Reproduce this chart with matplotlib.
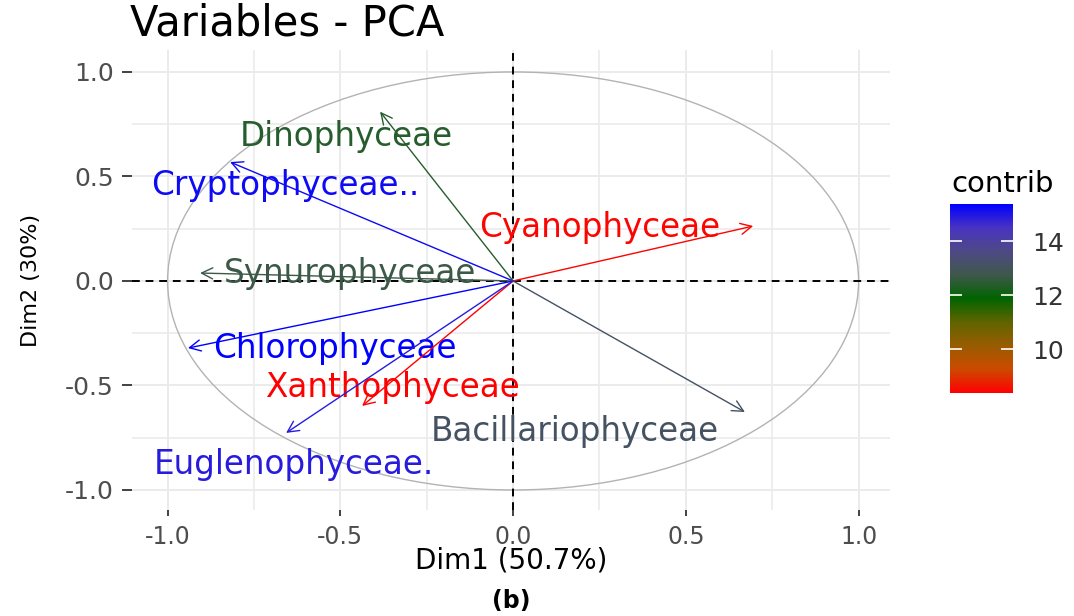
import matplotlib

matplotlib.use("Agg")
import matplotlib.pyplot as plt
from matplotlib.colors import LinearSegmentedColormap, Normalize
from matplotlib.patches import Circle
from matplotlib.cm import ScalarMappable

# PCA variable coordinates (Dim1, Dim2) and contribution
variables = ["Dinophyceae", "Cryptophyceae..", "Cyanophyceae", "Synurophyceae",
             "Chlorophyceae", "Xanthophyceae", "Bacillariophyceae", "Euglenophyceae."]
dim1 = [-0.385, -0.819, 0.695, -0.906, -0.941, -0.437, 0.671, -0.657]
dim2 = [0.810, 0.569, 0.263, 0.038, -0.321, -0.598, -0.627, -0.727]
contrib = [12.4, 15.2, 8.45, 12.7, 15.37, 8.37, 13.1, 14.9]
ticks = [-1.0, -0.5, 0.0, 0.5, 1.0]
cbar_ticks = [10, 12, 14]

# label offsets from arrow tips (layout only)
label_dx = [-0.097, 0.159, -0.443, 0.433, 0.426, 0.087, -0.493, 0.022]
label_dy = [-0.121, -0.110, -0.005, 0.0, 0.0, 0.086, -0.095, -0.153]

plt.rcParams["axes.unicode_minus"] = False

# red -> darkgreen -> blue, stops sampled along a Lab-space blend like R does
cmap = LinearSegmentedColormap.from_list(
    "contrib",
    ["#FF0000", "#CC4A00", "#985C00", "#606400", "#006400",
     "#3F584B", "#4E4985", "#4934C1", "#0000FF"],
)
norm = Normalize(vmin=min(contrib), vmax=max(contrib))

fig = plt.figure(figsize=(10.74, 6.16), dpi=100)
ax = fig.add_axes([0.1229, 0.172, 0.7058, 0.7468])

ax.set_xlim(-1.103, 1.091)
ax.set_ylim(-1.096, 1.105)

minor = [-0.75, -0.25, 0.25, 0.75]
ax.set_xticks(ticks)
ax.set_yticks(ticks)
ax.set_xticks(minor, minor=True)
ax.set_yticks(minor, minor=True)
ax.set_xticklabels([f"{t:.1f}" for t in ticks])
ax.set_yticklabels([f"{t:.1f}" for t in ticks])
ax.grid(which="major", color="#EBEBEB", lw=1.4)
ax.grid(which="minor", color="#EBEBEB", lw=1.2)
ax.set_axisbelow(True)
for s in ax.spines.values():
    s.set_visible(False)
ax.tick_params(which="minor", length=0)
ax.tick_params(axis="x", which="major", length=4.5, width=1.3, color="#333333",
               labelsize=17, labelcolor="#4D4D4D", pad=6)
ax.tick_params(axis="y", which="major", length=7, width=1.3, color="#333333",
               labelsize=18, labelcolor="#4D4D4D", pad=6)

ax.add_patch(Circle((0, 0), 1.0, fill=False, ec="#B3B3B3", lw=1.0))
ax.axhline(0, color="black", ls=(0, (4, 3)), lw=1.4)
ax.axvline(0, color="black", ls=(0, (4, 3)), lw=1.4)

for name, x, y, c, dx, dy in zip(variables, dim1, dim2, contrib, label_dx, label_dy):
    col = cmap(norm(c))
    ax.annotate("", xy=(x, y), xytext=(0, 0),
                arrowprops=dict(arrowstyle="->", color=col, lw=1.0,
                                mutation_scale=20, shrinkA=0, shrinkB=0))
    ax.text(x + dx, y + dy, name, color=col, fontsize=23.5, ha="center", va="center")

ax.set_xlabel("Dim1 (50.7%)", fontsize=20, va="center")
ax.xaxis.set_label_coords(0.5, -0.11)
ax.set_ylabel("Dim2 (30%)", fontsize=16, va="center")
ax.yaxis.set_label_coords(-0.133, 0.5)

fig.text(0.121, 0.962, "Variables - PCA", fontsize=30, va="center", ha="left")
fig.text(0.476, 0.024, "(b)", fontsize=17, fontweight="bold", va="center", ha="center")

# colour bar legend
cax = fig.add_axes([0.8845, 0.362, 0.0587, 0.3068])
cb = fig.colorbar(ScalarMappable(norm=norm, cmap=cmap), cax=cax, ticks=cbar_ticks)
cb.outline.set_visible(False)
cax.tick_params(direction="in", length=8.5, width=1.2, color="white",
                left=True, right=True, labelsize=18, labelcolor="#333333", pad=14)
fig.text(0.886, 0.701, "contrib", fontsize=21, va="center", ha="left")

fig.savefig("out.png", dpi=100)
